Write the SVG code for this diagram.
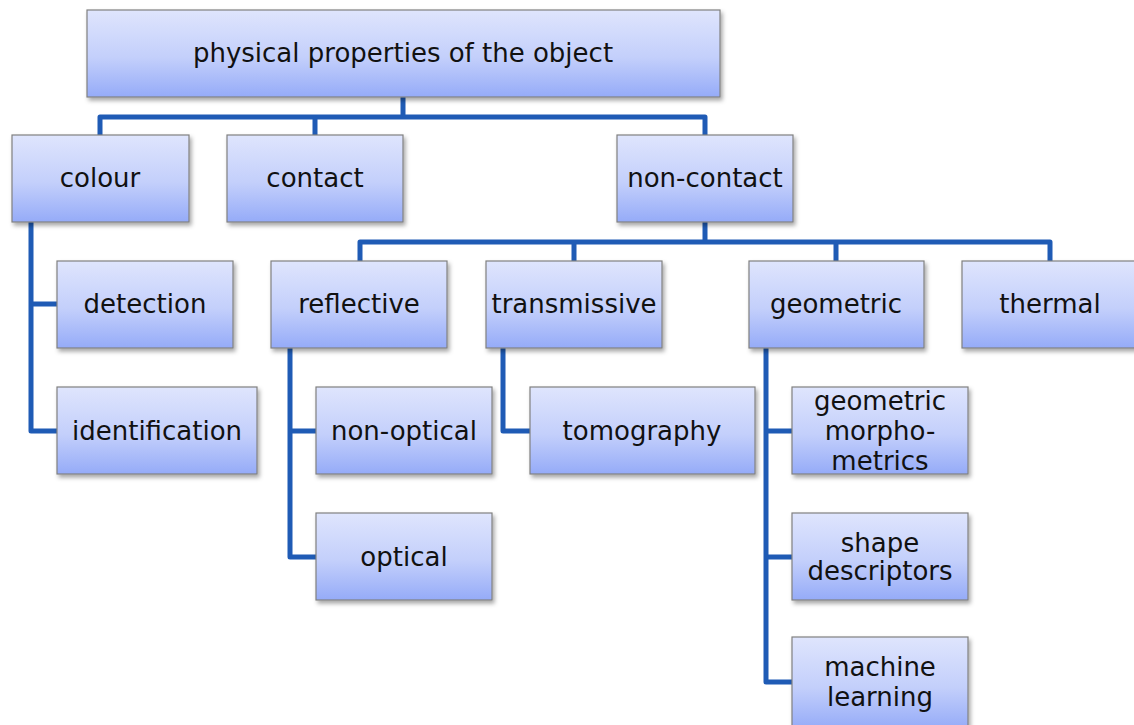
<svg xmlns="http://www.w3.org/2000/svg" width="1134" height="725" viewBox="0 0 1134 725">
  <defs>
    <linearGradient id="boxFill" x1="0" y1="0" x2="0" y2="1">
      <stop offset="0" stop-color="#dfe5fd"/>
      <stop offset="0.55" stop-color="#c3cffb"/>
      <stop offset="1" stop-color="#95abf8"/>
    </linearGradient>
    <filter id="shadow" x="-10%" y="-10%" width="120%" height="130%">
      <feDropShadow dx="2" dy="3" stdDeviation="2" flood-color="#000" flood-opacity="0.35"/>
    </filter>
  </defs>
  <style>
    .box { fill: url(#boxFill); stroke: #808080; stroke-width: 1.2; filter: url(#shadow); }
    .lbl { font-family: "Century Gothic", "DejaVu Sans", "Liberation Sans", sans-serif; font-size: 26px; fill: #111; text-anchor: middle; }
    .wire { fill: none; stroke: #1f5bb5; stroke-width: 5; stroke-linejoin: round; stroke-linecap: butt; }
  </style>
  <rect width="1134" height="725" fill="#fff"/>

  <g id="connectors">
    <!-- root to first level -->
    <path class="wire" d="M403 97 V117 M100 135 V117 H705 V135 M315 117 V135"/>
    <!-- colour branch -->
    <path class="wire" d="M31 222 V431 H57 M31 304 H57"/>
    <!-- non-contact to second level -->
    <path class="wire" d="M705 222 V242 M360 261 V242 H1050 V261 M574 242 V261 M836 242 V261"/>
    <!-- reflective branch -->
    <path class="wire" d="M290 348 V557 H316 M290 431 H316"/>
    <!-- transmissive branch -->
    <path class="wire" d="M503 348 V431 H530"/>
    <!-- geometric branch -->
    <path class="wire" d="M766 348 V682 H792 M766 431 H792 M766 557 H792"/>
  </g>

  <g id="root">
    <rect class="box" x="87" y="10" width="633" height="87"/>
    <text class="lbl" x="403" y="62">physical properties of the object</text>
  </g>
  <g id="colour">
    <rect class="box" x="12" y="135" width="177" height="87"/>
    <text class="lbl" x="100" y="187">colour</text>
  </g>
  <g id="contact">
    <rect class="box" x="227" y="135" width="176" height="87"/>
    <text class="lbl" x="315" y="187">contact</text>
  </g>
  <g id="non-contact">
    <rect class="box" x="617" y="135" width="176" height="87"/>
    <text class="lbl" x="705" y="187">non-contact</text>
  </g>
  <g id="detection">
    <rect class="box" x="57" y="261" width="176" height="87"/>
    <text class="lbl" x="145" y="313">detection</text>
  </g>
  <g id="identification">
    <rect class="box" x="57" y="387" width="200" height="87"/>
    <text class="lbl" x="157" y="440">identification</text>
  </g>
  <g id="reflective">
    <rect class="box" x="271" y="261" width="176" height="87"/>
    <text class="lbl" x="359" y="313">reflective</text>
  </g>
  <g id="transmissive">
    <rect class="box" x="486" y="261" width="176" height="87"/>
    <text class="lbl" x="574" y="313">transmissive</text>
  </g>
  <g id="geometric">
    <rect class="box" x="749" y="261" width="175" height="87"/>
    <text class="lbl" x="836" y="313">geometric</text>
  </g>
  <g id="thermal">
    <rect class="box" x="962" y="261" width="176" height="87"/>
    <text class="lbl" x="1050" y="313">thermal</text>
  </g>
  <g id="non-optical">
    <rect class="box" x="316" y="387" width="176" height="87"/>
    <text class="lbl" x="404" y="440">non-optical</text>
  </g>
  <g id="optical">
    <rect class="box" x="316" y="513" width="176" height="87"/>
    <text class="lbl" x="404" y="566">optical</text>
  </g>
  <g id="tomography">
    <rect class="box" x="530" y="387" width="225" height="87"/>
    <text class="lbl" x="642" y="440">tomography</text>
  </g>
  <g id="geometric-morphometrics">
    <rect class="box" x="792" y="387" width="176" height="87"/>
    <text class="lbl" x="880" y="410">geometric</text>
    <text class="lbl" x="880" y="440">morpho-</text>
    <text class="lbl" x="880" y="470">metrics</text>
  </g>
  <g id="shape-descriptors">
    <rect class="box" x="792" y="513" width="176" height="87"/>
    <text class="lbl" x="880" y="552">shape</text>
    <text class="lbl" x="880" y="580">descriptors</text>
  </g>
  <g id="machine-learning">
    <rect class="box" x="792" y="637" width="176" height="92"/>
    <text class="lbl" x="880" y="676">machine</text>
    <text class="lbl" x="880" y="706">learning</text>
  </g>
</svg>
